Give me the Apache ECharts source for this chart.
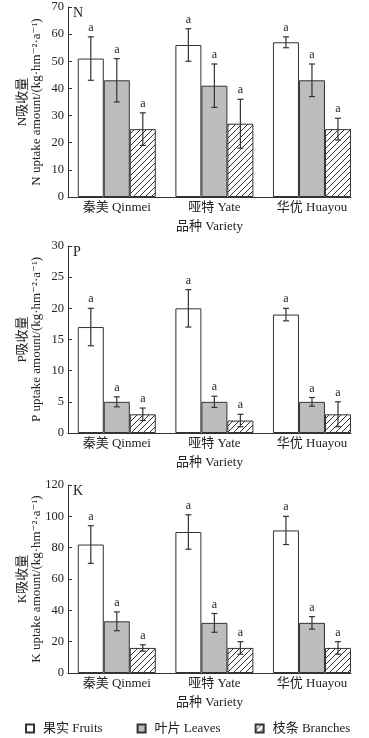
<!DOCTYPE html>
<html>
<head>
<meta charset="utf-8">
<script src="https://cdn.jsdelivr.net/npm/echarts@6/dist/echarts.min.js"></script>
<style>html,body{margin:0;padding:0;background:#fff}#c{width:369px;height:738px}</style>
</head>
<body>
<div id="c"></div>
<script>
const categories = ['秦美 Qinmei', '哑特 Yate', '华优 Huayou'];
const seriesNames = ['果实 Fruits', '叶片 Leaves', '枝条 Branches'];

const N_fruits = [51, 56, 57];
const N_fruits_err = [8, 6, 2];
const N_leaves = [43, 41, 43];
const N_leaves_err = [8, 8, 6];
const N_branches = [25, 27, 25];
const N_branches_err = [6, 9, 4];

const P_fruits = [17, 20, 19];
const P_fruits_err = [3, 3, 1];
const P_leaves = [5, 5, 5];
const P_leaves_err = [0.8, 0.9, 0.7];
const P_branches = [3, 2, 3];
const P_branches_err = [1, 1, 2];

const K_fruits = [82, 90, 91];
const K_fruits_err = [12, 11, 9];
const K_leaves = [33, 32, 32];
const K_leaves_err = [6, 6, 4];
const K_branches = [16, 16, 16];
const K_branches_err = [2, 4, 4];

const letters = ['a', 'a', 'a'];

const N_ticks = {min: 0, max: 70, interval: 10};
const P_ticks = {min: 0, max: 30, interval: 5};
const K_ticks = {min: 0, max: 120, interval: 20};

const panels = [
  {label: 'N', ticks: N_ticks, vals: [N_fruits, N_leaves, N_branches], errs: [N_fruits_err, N_leaves_err, N_branches_err],
   yName: 'N吸收量\nN uptake amount/(kg·hm⁻²·a⁻¹)'},
  {label: 'P', ticks: P_ticks, vals: [P_fruits, P_leaves, P_branches], errs: [P_fruits_err, P_leaves_err, P_branches_err],
   yName: 'P吸收量\nP uptake amount/(kg·hm⁻²·a⁻¹)'},
  {label: 'K', ticks: K_ticks, vals: [K_fruits, K_leaves, K_branches], errs: [K_fruits_err, K_leaves_err, K_branches_err],
   yName: 'K吸收量\nK uptake amount/(kg·hm⁻²·a⁻¹)'}
];

const FONT = '"Liberation Serif", "DejaVu Serif", "Noto Sans CJK SC", serif';
const TXT = '#222';
const AX = '#333';

// hatch pattern
const pc = document.createElement('canvas');
pc.width = 6; pc.height = 6;
const g = pc.getContext('2d');
g.fillStyle = '#fff'; g.fillRect(0, 0, 6, 6);
g.strokeStyle = '#333'; g.lineWidth = 1;
g.beginPath();
g.moveTo(0, 6); g.lineTo(6, 0);
g.moveTo(-1, 1); g.lineTo(1, -1);
g.moveTo(5, 7); g.lineTo(7, 5);
g.stroke();
const hatch = {image: pc, repeat: 'repeat'};

const fills = ['#ffffff', '#bdbdbd', hatch];

const gridLayout = [
  {top: 7, height: 190},
  {top: 246, height: 187},
  {top: 485, height: 188}
];

const BAR_W = 26;

const grid = [], xAxis = [], yAxis = [], series = [], title = [];
panels.forEach((p, i) => {
  grid.push({left: 68, width: 283, top: gridLayout[i].top, height: gridLayout[i].height,
    containLabel: false, outerBoundsMode: 'none'});
  xAxis.push({
    type: 'value', gridIndex: i, min: 0, max: 2.9, interval: 0.5,
    axisLine: {show: true, onZero: false, lineStyle: {color: AX, width: 1}},
    axisTick: {show: false}, splitLine: {show: false},
    axisLabel: {
      margin: 4, color: TXT, fontSize: 13, fontFamily: FONT,
      showMinLabel: false, showMaxLabel: false,
      formatter: v => {
        const k = Math.round(v - 0.5);
        return (Math.abs(v - (k + 0.5)) < 1e-6 && categories[k]) ? categories[k] : '';
      }
    },
    name: '品种 Variety', nameLocation: 'middle', nameGap: 23, nameMoveOverlap: false,
    nameTextStyle: {color: TXT, fontSize: 13, fontFamily: FONT}
  });
  yAxis.push({
    type: 'value', gridIndex: i, min: p.ticks.min, max: p.ticks.max, interval: p.ticks.interval,
    axisLine: {show: true, lineStyle: {color: AX, width: 1}},
    axisTick: {show: true, inside: true, length: 4, lineStyle: {color: AX}},
    splitLine: {show: false},
    axisLabel: {margin: 4, color: TXT, fontSize: 12.5, fontFamily: FONT},
    name: p.yName, nameLocation: 'middle', nameRotate: 90, nameGap: 24, nameMoveOverlap: false,
    nameTextStyle: {color: TXT, fontSize: 13, lineHeight: 14, fontFamily: FONT, align: 'center'}
  });
  title.push({
    text: p.label, left: 73, top: gridLayout[i].top - 1, padding: 0,
    textStyle: {fontSize: 14, fontWeight: 'normal', color: TXT, fontFamily: FONT}
  });
  const errData = [];
  p.vals.forEach((arr, k) => {
    series.push({
      type: 'bar', name: seriesNames[k], xAxisIndex: i, yAxisIndex: i,
      barWidth: BAR_W, barGap: '0%',
      itemStyle: {color: fills[k], borderColor: AX, borderWidth: 1},
      data: arr.map((v, j) => [j + 0.5, v]),
      z: 2
    });
    arr.forEach((v, j) => errData.push([j + 0.5, v, p.errs[k][j], k, j]));
  });
  series.push({
    type: 'custom', xAxisIndex: i, yAxisIndex: i, z: 5, clip: false,
    encode: {x: 0, y: 1},
    data: errData,
    renderItem: (params, api) => {
      const x = api.value(0), v = api.value(1), e = api.value(2), k = api.value(3), j = api.value(4);
      const top = api.coord([x, v + e]);
      const bot = api.coord([x, v - e]);
      const cx = top[0] + (k - 1) * BAR_W;
      const st = {stroke: '#333', lineWidth: 1.2};
      return {
        type: 'group',
        children: [
          {type: 'line', shape: {x1: cx, y1: top[1], x2: cx, y2: bot[1]}, style: st},
          {type: 'line', shape: {x1: cx - 3, y1: top[1], x2: cx + 3, y2: top[1]}, style: st},
          {type: 'line', shape: {x1: cx - 3, y1: bot[1], x2: cx + 3, y2: bot[1]}, style: st},
          {type: 'text', style: {text: letters[j], x: cx, y: top[1] - 3, align: 'center', verticalAlign: 'bottom',
            fontSize: 12, fontFamily: FONT, fill: TXT}}
        ]
      };
    }
  });
});

const chart = echarts.init(document.getElementById('c'), null, {renderer: 'canvas'});
chart.setOption({
  animation: false,
  backgroundColor: '#fff',
  title: title,
  grid: grid,
  xAxis: xAxis,
  yAxis: yAxis,
  legend: {
    data: seriesNames, left: 20, top: 717, itemWidth: 8, itemHeight: 8, itemGap: 34,
    icon: 'rect',
    textStyle: {color: TXT, fontSize: 13, fontFamily: FONT, padding: [0, 0, 0, 4]}
  },
  series: series
});
</script>
</body>
</html>
